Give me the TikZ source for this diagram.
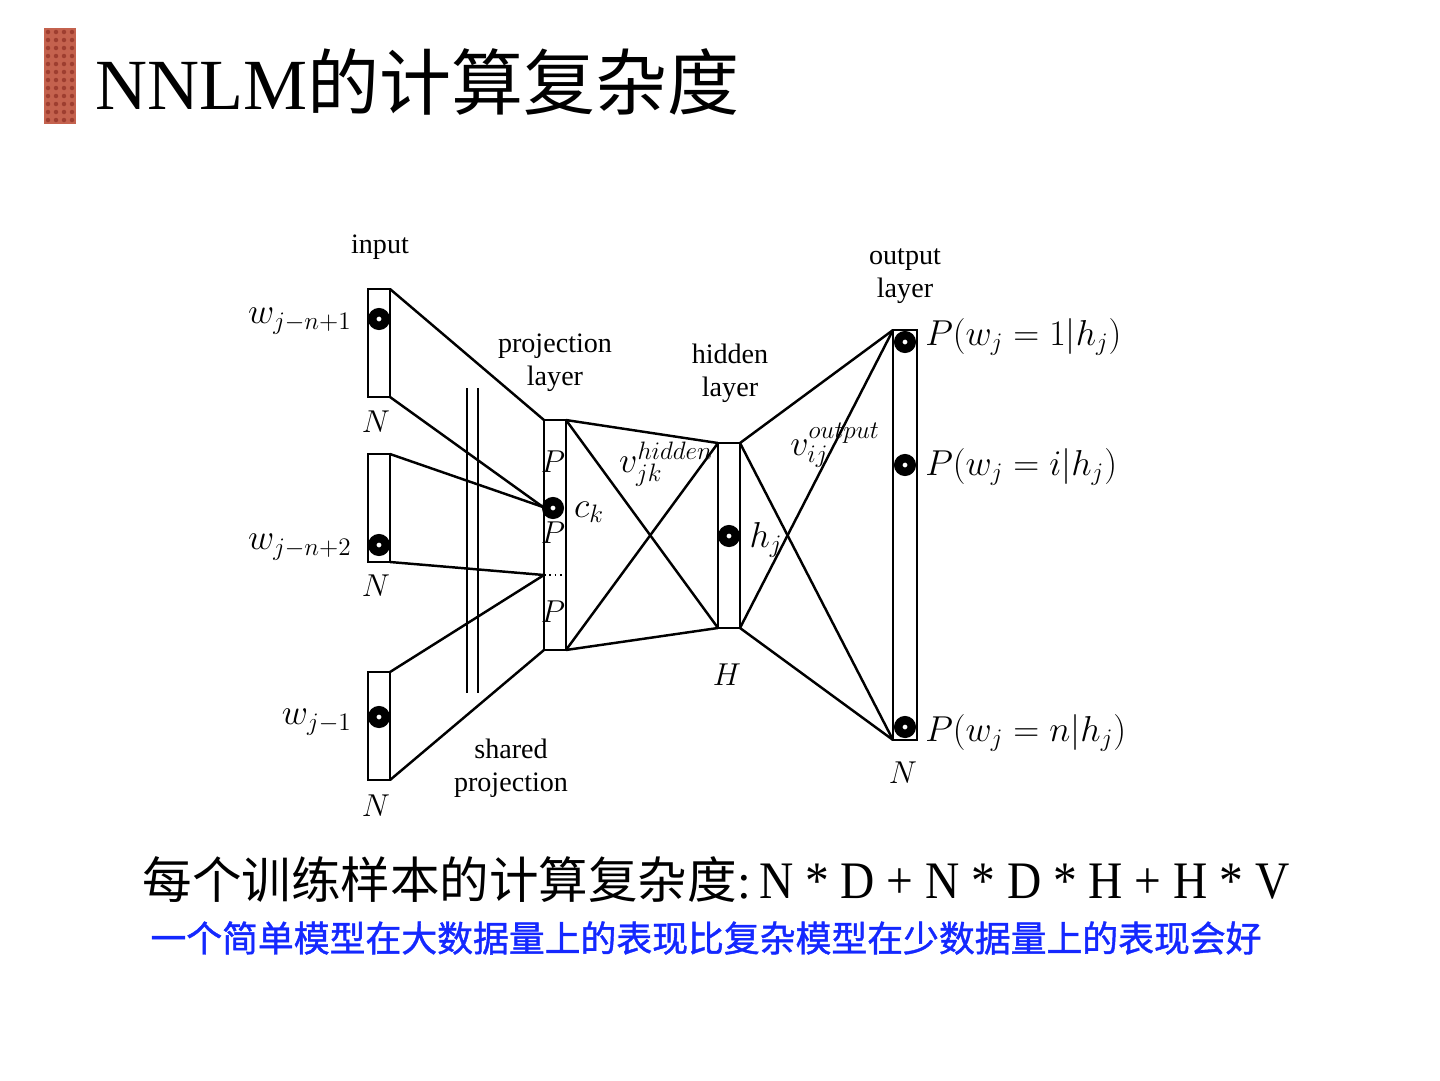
\RequirePackage{fix-cm}
\documentclass[tikz,border=0pt]{standalone}
\usepackage{fontspec}
\setmainfont{Liberation Serif}
\newfontfamily\cjk{Noto Sans CJK SC}
\newfontfamily\cjkb[FakeBold=1.2]{Noto Sans CJK SC}
\newfontfamily\narrowrm[FakeStretch=0.9]{Liberation Serif}
\usetikzlibrary{positioning,calc}
\definecolor{tilered}{RGB}{196,98,78}
\definecolor{tiledot}{RGB}{158,62,48}
\definecolor{noteblue}{RGB}{20,40,255}
\tikzset{
  layerbox/.style={draw=black,line width=1.6pt,fill=white,minimum width=0.44cm,
                   inner sep=0pt,outer sep=0pt},
  unit/.style={circle,draw=black,line width=0.17cm,fill=white,minimum size=0.27cm,
               inner sep=0pt},
  wire/.style={line width=1.4pt},
  lbl/.style={font=\fontsize{16}{18.7}\selectfont,align=center,inner sep=0pt},
  mlbl/.style={font=\fontsize{18}{20}\selectfont,inner sep=0pt},
  mbig/.style={font=\fontsize{20.5}{22}\selectfont,inner sep=0pt},
}

\begin{document}
\begin{tikzpicture}[x=0.02cm,y=-0.02cm]
  \useasboundingbox[fill=white] (0,0) rectangle (1440,1080);
  % --- title ---
  \fill[tilered] (44,28) rectangle (76,124);
  \foreach \r in {0,...,11}{\foreach \c in {0,...,3}{\fill[tiledot] (48+8*\c,32+8*\r) circle (0.045cm);}}
  \node[anchor=west,inner sep=0pt,font=\fontsize{41}{41}\selectfont] (title) at (95,82)
       {NNLM{\cjk 的计算复杂度}};
  % --- input layer ---
  \node[layerbox,minimum height=2.16cm] (in1) at (379,343) {};
  \node[layerbox,minimum height=2.16cm] (in2) at (379,508) {};
  \node[layerbox,minimum height=2.16cm] (in3) at (379,726) {};
  % --- projection layer ---
  \node[layerbox,minimum height=4.6cm] (proj) at (555,535) {};
  \coordinate (pmid) at (544,575);
  \draw[dotted,line width=1pt] (pmid) -- (proj.east |- pmid);
  % --- hidden layer ---
  \node[layerbox,minimum height=3.7cm] (hid) at (729,535.5) {};
  % --- output layer ---
  \node[layerbox,minimum width=0.48cm,minimum height=8.2cm] (out) at (905,535) {};
  % shared projection marks
  \draw[line width=0.9pt] (467,388) -- (467,693) (478,388) -- (478,693);
  % --- units ---
  \node[unit] (w1) at (379,319) {};
  \node[unit] (w2) at (379,545) {};
  \node[unit] (w3) at (379,717) {};
  % input -> projection
  \draw[wire] (in1.north east) -- (proj.north west);
  \draw[wire] (in1.south east) -- (543,507) coordinate (ckin);
  \draw[wire] (in2.north east) -- (ckin);
  \draw[wire] (in2.south east) -- (pmid);
  \draw[wire] (in3.north east) -- (pmid);
  \draw[wire] (in3.south east) -- (proj.south west);
  % projection -> hidden
  \draw[wire] (proj.north east) -- (hid.north west);
  \draw[wire] (proj.north east) -- (hid.south west);
  \draw[wire] (proj.south east) -- (hid.north west);
  \draw[wire] (proj.south east) -- (hid.south west);
  % hidden -> output
  \draw[wire] (hid.north east) -- (out.north west);
  \draw[wire] (hid.north east) -- (out.south west);
  \draw[wire] (hid.south east) -- (out.north west);
  \draw[wire] (hid.south east) -- (out.south west);
  \node[unit] (ck) at (553,508) {};
  \node[unit] (hj) at (729,536) {};
  \node[unit] (o1) at (905,342) {};
  \node[unit] (oi) at (905,465) {};
  \node[unit] (on) at (905,727) {};
  % --- text labels ---
  \node[lbl] (inlbl) at (380,247) {input};
  \node[lbl] (projlbl) at (555,363) {projection\\layer};
  \node[lbl] (hidlbl) at (730,373) {hidden\\layer};
  \node[lbl] (outlbl) at (905,276) {output\\layer};
  \node[lbl] (shlbl) at (511,768) {shared\\projection};
  % --- math labels ---
  \node[mbig,anchor=east] (lw1) at (352,321) {$w_{j-n+1}$};
  \node[mbig,anchor=east] (lw2) at (352,547) {$w_{j-n+2}$};
  \node[mbig,anchor=east] (lw3) at (352,722) {$w_{j-1}$};
  \foreach \x/\y/\n in {376/422/n1,376/586/n2,376/806/n3,903/773/n4}
    \node[mlbl] (\n) at (\x,\y) {$N$};
  \foreach \y/\n in {462/p1,533/p2,612/p3}
    \node[mlbl] (\n) at (553,\y) {$P$};
  \node[mbig] (lck) at (589,512) {$c_k$};
  \node[mbig] (lhj) at (766,540) {$h_j$};
  \node[mlbl] (lH) at (727,675) {$H$};
  \node[mbig] (lvh) at (666,464) {$v_{jk}^{hidden}$};
  \node[mbig] (lvo) at (835,445) {$v_{ij}^{output}$};
  \node[mbig,anchor=west] (po1) at (925,337) {$P(w_j=1|h_j)$};
  \node[mbig,anchor=west] (poi) at (925,467) {$P(w_j=i|h_j)$};
  \node[mbig,anchor=west] (pon) at (925,733) {$P(w_j=n|h_j)$};
  % --- cost and note ---
  \node[inner sep=0pt,font=\fontsize{28.2}{29}\selectfont] (cost) at (716,880)
       {{\cjk 每个训练样本的计算复杂度}:\,{\narrowrm\fontsize{30}{30}\selectfont N * D + N * D * H + H * V}};
  \node[inner sep=0pt,text=noteblue,font=\cjkb\fontsize{20.4}{21}\selectfont] (note) at (706,938)
       {一个简单模型在大数据量上的表现比复杂模型在少数据量上的表现会好};
\end{tikzpicture}
\end{document}
